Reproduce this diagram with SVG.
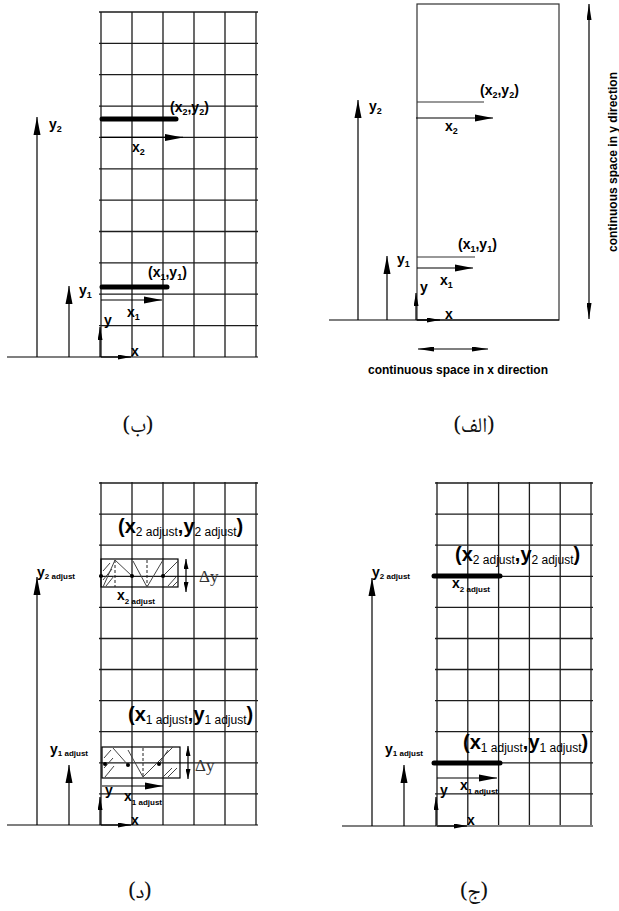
<svg xmlns="http://www.w3.org/2000/svg" width="619" height="911" viewBox="0 0 619 911">
<style>
.grid{fill:none;stroke:#1c1c1c;stroke-width:1.3}
.ln{fill:none;stroke:#000;stroke-width:1.2}
.thin{fill:none;stroke:#333;stroke-width:1.2}
.thick{fill:none;stroke:#000;stroke-width:5;stroke-linecap:round}
.t{font-family:"Liberation Sans",Arial,sans-serif;font-weight:bold;font-size:14px;fill:#000}
.s{font-size:9px}
.ss{font-size:8px}
.b{font-family:"Liberation Sans",Arial,sans-serif;font-weight:bold;font-size:20px;fill:#000}
.bs{font-size:12px;font-weight:normal}
.c{font-family:"Liberation Sans",Arial,sans-serif;font-weight:bold;font-size:12px;fill:#000}
.dy{font-family:"Liberation Serif","Times New Roman",serif;font-size:17px;fill:#333}
.ar{font-family:"Noto Naskh Arabic","Noto Sans Arabic","DejaVu Sans",sans-serif;font-size:21px;fill:#111}
.hat{fill:none;stroke:#444;stroke-width:1}
.dash{fill:none;stroke:#222;stroke-width:1;stroke-dasharray:3,2}
</style>
<defs>
<marker id="ah" viewBox="0 0 18 8" refX="18" refY="4" markerWidth="18" markerHeight="8" markerUnits="userSpaceOnUse" orient="auto"><path d="M0,0.5 L18,4 L0,7.5 z" fill="#000"/></marker>
<marker id="as" viewBox="0 0 13 5" refX="13" refY="2.5" markerWidth="13" markerHeight="5" markerUnits="userSpaceOnUse" orient="auto"><path d="M0,0 L13,2.5 L0,5 z" fill="#000"/></marker>
<marker id="ad" viewBox="0 0 16 5" refX="16" refY="2.5" markerWidth="16" markerHeight="5" markerUnits="userSpaceOnUse" orient="auto-start-reverse"><path d="M0,0 L16,2.5 L0,5 z" fill="#000"/></marker>
<marker id="ay" viewBox="0 0 10 5" refX="10" refY="2.5" markerWidth="10" markerHeight="5" markerUnits="userSpaceOnUse" orient="auto-start-reverse"><path d="M0,0 L10,2.5 L0,5 z" fill="#000"/></marker>
</defs>
<rect width="619" height="911" fill="#fff"/>

<!-- Panel B (top-left) -->
<g id="panel-b">
<path class="grid" d="M101,12V357M132,12V357M163,12V357M194,12V357M225,12V357M256,12V357M99,12H258M99,43.4H258M99,74.7H258M99,106.1H258M99,137.4H258M99,168.8H258M99,200.2H258M99,231.5H258M99,262.9H258M99,294.2H258M99,325.6H258"/>
</g>
<g id="connectors-b">
<path class="ln" d="M7,357H258"/>
<path class="ln" d="M37,357V117" marker-end="url(#ah)"/>
<path class="ln" d="M69,357V286" marker-end="url(#ah)"/>
<path class="ln" d="M100,357V327" marker-end="url(#as)"/>
<path class="ln" d="M101,357H131" marker-end="url(#as)"/>
<path class="ln" d="M101,137.4H183" marker-end="url(#ah)"/>
<path class="ln" d="M101,300H162" marker-end="url(#ah)"/>
<path class="thick" d="M102,119H176"/>
<path class="thick" d="M102,287H167"/>
</g>
<g id="labels-b">
<text class="t" x="49" y="129">y<tspan class="s" dy="3">2</tspan></text>
<text class="t" x="170" y="112">(x<tspan class="s" dy="3">2</tspan><tspan dy="-3">,y</tspan><tspan class="s" dy="3">2</tspan><tspan dy="-3">)</tspan></text>
<text class="t" x="132" y="152">x<tspan class="s" dy="3">2</tspan></text>
<text class="t" x="79" y="295">y<tspan class="s" dy="3">1</tspan></text>
<text class="t" x="148" y="277">(x<tspan class="s" dy="3">1</tspan><tspan dy="-3">,y</tspan><tspan class="s" dy="3">1</tspan><tspan dy="-3">)</tspan></text>
<text class="t" x="127" y="317">x<tspan class="s" dy="3">1</tspan></text>
<text class="t" x="104" y="325">y</text>
<text class="t" x="131" y="356">x</text>
<text class="ar" x="138" y="432" text-anchor="middle">(ب)</text>
</g>

<!-- Panel Alef (top-right) -->
<g id="panel-alef">
<rect class="thin" x="417" y="4" width="142" height="316"/>
</g>
<g id="connectors-alef">
<path class="ln" d="M329,320H559"/>
<path class="ln" d="M358,320V100" marker-end="url(#ah)"/>
<path class="ln" d="M387,320V256" marker-end="url(#ah)"/>
<path class="ln" d="M416,320V293" marker-end="url(#as)"/>
<path class="ln" d="M417,320H440" marker-end="url(#as)"/>
<path class="thin" d="M417,102H484"/>
<path class="thin" d="M417,257H475"/>
<path class="ln" d="M416,118H493" marker-end="url(#ah)"/>
<path class="ln" d="M417,268H473" marker-end="url(#ah)"/>
<path class="ln" d="M418,349H488" marker-start="url(#ad)" marker-end="url(#ad)"/>
<path class="ln" d="M589,4V319" marker-start="url(#ad)" marker-end="url(#ad)"/>
</g>
<g id="labels-alef">
<text class="t" x="369" y="111">y<tspan class="s" dy="3">2</tspan></text>
<text class="t" x="480" y="95">(x<tspan class="s" dy="3">2</tspan><tspan dy="-3">,y</tspan><tspan class="s" dy="3">2</tspan><tspan dy="-3">)</tspan></text>
<text class="t" x="445" y="131">x<tspan class="s" dy="3">2</tspan></text>
<text class="t" x="397" y="264">y<tspan class="s" dy="3">1</tspan></text>
<text class="t" x="458" y="249">(x<tspan class="s" dy="3">1</tspan><tspan dy="-3">,y</tspan><tspan class="s" dy="3">1</tspan><tspan dy="-3">)</tspan></text>
<text class="t" x="440" y="285">x<tspan class="s" dy="3">1</tspan></text>
<text class="t" x="420" y="292">y</text>
<text class="t" x="445" y="319">x</text>
<text class="c" x="458" y="374" text-anchor="middle">continuous space in x direction</text>
<text class="c" transform="translate(617,162) rotate(-90)" text-anchor="middle">continuous space in y direction</text>
<text class="ar" x="474" y="432" text-anchor="middle">(الف)</text>
</g>

<!-- Panel D (bottom-left) -->
<g id="panel-d">
<path class="grid" d="M101,482V825M132,482V825M163,482V825M194,482V825M225,482V825M256,482V825M99,483H258M99,514.1H258M99,545.2H258M99,576.3H258M99,607.4H258M99,638.5H258M99,669.5H258M99,700.6H258M99,731.7H258M99,762.8H258M99,793.9H258"/>
</g>
<g id="hatch-d2">
<rect class="ln" x="101" y="559" width="77" height="28" stroke-width="1"/>
<path class="dash" d="M115,560V587M147,560V587"/>
<path class="hat" d="M103,587L115,560L132,576M133,561L147,587L163,560M163,576L178,561M103,571L110,563M103,580L112,569M106,586L114,576M168,586L176,577M172,587L178,581"/>
<circle cx="101" cy="576" r="2"/><circle cx="132" cy="576" r="2"/><circle cx="163" cy="576" r="2"/>
</g>
<g id="hatch-d1">
<rect class="ln" x="102" y="747" width="78" height="31" stroke-width="1"/>
<path class="dash" d="M143,748V778"/>
<path class="hat" d="M113,748L128,765M128,750L143,777L173,747M159,764L168,750M104,758L111,750M104,768L113,758M105,777L114,766M163,777L172,768M168,777L177,768"/>
<circle cx="105" cy="764" r="2"/><circle cx="128" cy="765" r="2"/><circle cx="159" cy="764" r="2"/>
</g>
<g id="connectors-d">
<path class="ln" d="M7,825H258"/>
<path class="ln" d="M37,825V577" marker-end="url(#ah)"/>
<path class="ln" d="M69,825V765" marker-end="url(#ah)"/>
<path class="ln" d="M100,825V797" marker-end="url(#as)"/>
<path class="ln" d="M101,825H131" marker-end="url(#as)"/>
<path class="ln" d="M102,786H163" marker-end="url(#ah)"/>
<path class="ln" d="M186,559V592" marker-start="url(#ay)" marker-end="url(#ay)"/>
<path class="ln" d="M188,746V779" marker-start="url(#ay)" marker-end="url(#ay)"/>
</g>
<g id="labels-d">
<text class="t" x="37" y="577">y<tspan class="ss" dy="2">2 adjust</tspan></text>
<text class="b" x="118" y="533">(x<tspan class="bs" dy="3">2 adjust</tspan><tspan dy="-3">,y</tspan><tspan class="bs" dy="3">2 adjust</tspan><tspan dy="-3">)</tspan></text>
<text class="t" x="117" y="600">x<tspan class="ss" dy="4">2 adjust</tspan></text>
<text class="dy" x="199" y="582">Δy</text>
<text class="t" x="50" y="754">y<tspan class="ss" dy="2">1 adjust</tspan></text>
<text class="b" x="128" y="721">(x<tspan class="bs" dy="3">1 adjust</tspan><tspan dy="-3">,y</tspan><tspan class="bs" dy="3">1 adjust</tspan><tspan dy="-3">)</tspan></text>
<text class="t" x="124" y="801">x<tspan class="ss" dy="4">1 adjust</tspan></text>
<text class="dy" x="195" y="771">Δy</text>
<text class="t" x="105" y="795">y</text>
<text class="t" x="131" y="825">x</text>
<text class="ar" x="140" y="898" text-anchor="middle">(د)</text>
</g>

<!-- Panel J (bottom-right) -->
<g id="panel-j">
<path class="grid" d="M437,482V825M467.8,482V825M498.6,482V825M529.4,482V825M560.2,482V825M591,482V825M435,483H593M435,514.1H593M435,545.2H593M435,576.3H593M435,607.4H593M435,638.5H593M435,669.5H593M435,700.6H593M435,731.7H593M435,762.8H593M435,793.9H593"/>
</g>
<g id="connectors-j">
<path class="ln" d="M342,826H593"/>
<path class="ln" d="M372,826V578" marker-end="url(#ah)"/>
<path class="ln" d="M404,826V765" marker-end="url(#ah)"/>
<path class="ln" d="M436,826V797" marker-end="url(#as)"/>
<path class="ln" d="M437,826H467" marker-end="url(#as)"/>
<path class="ln" d="M437,778H497" marker-end="url(#ah)"/>
<path class="thick" d="M434,576H500"/>
<path class="thick" d="M434,763H500"/>
</g>
<g id="labels-j">
<text class="t" x="372" y="577">y<tspan class="ss" dy="2">2 adjust</tspan></text>
<text class="b" x="455" y="561">(x<tspan class="bs" dy="3">2 adjust</tspan><tspan dy="-3">,y</tspan><tspan class="bs" dy="3">2 adjust</tspan><tspan dy="-3">)</tspan></text>
<text class="t" x="452" y="588">x<tspan class="ss" dy="4">2 adjust</tspan></text>
<text class="t" x="385" y="754">y<tspan class="ss" dy="2">1 adjust</tspan></text>
<text class="b" x="463" y="749">(x<tspan class="bs" dy="3">1 adjust</tspan><tspan dy="-3">,y</tspan><tspan class="bs" dy="3">1 adjust</tspan><tspan dy="-3">)</tspan></text>
<text class="t" x="460" y="790">x<tspan class="ss" dy="4">1 adjust</tspan></text>
<text class="t" x="440" y="795">y</text>
<text class="t" x="467" y="825">x</text>
<text class="ar" x="474" y="898" text-anchor="middle">(ج)</text>
</g>
</svg>
